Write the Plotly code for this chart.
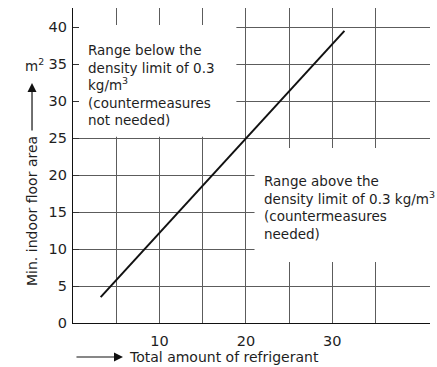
import plotly.graph_objects as go

# ---- data ----
refrigerant_kg = [3.2, 31.4]          # line end points (x)
min_floor_area = [3.5, 39.5]          # line end points (y)
x_grid_vals = [5, 10, 15, 20, 25, 30, 35]
x_tick_text = ["", "10", "", "20", "", "30", ""]
y_grid_vals = [0, 5, 10, 15, 20, 25, 30, 35, 40]
y_tick_text = ["0", "5", "10", "15", "20", "25", "30", "35", "40"]
x_range = [0, 41.3]
y_range = [0, 42.6]

FONT = "DejaVu Sans"
TXT = "#1e1e1e"
GRID = "#5c5c5c"

fig = go.Figure()
fig.add_trace(go.Scatter(
    x=refrigerant_kg, y=min_floor_area, mode="lines",
    line=dict(color="#111111", width=2), showlegend=False, hoverinfo="skip"))

fig.update_layout(
    width=437, height=367,
    margin=dict(l=73, r=7, t=8, b=44),
    paper_bgcolor="white", plot_bgcolor="white",
    font=dict(family=FONT, size=14, color=TXT),
    showlegend=False,
)
fig.update_xaxes(
    range=x_range, tickvals=x_grid_vals, ticktext=x_tick_text,
    showgrid=True, gridcolor=GRID, gridwidth=1.2,
    showline=True, linecolor="#111111", linewidth=1.4,
    ticks="", zeroline=False, tickfont=dict(size=14.5, color=TXT),
    ticklabelstandoff=4,
)
fig.update_yaxes(
    range=y_range, tickvals=y_grid_vals, ticktext=y_tick_text,
    showgrid=True, gridcolor=GRID, gridwidth=1.2,
    showline=True, linecolor="#111111", linewidth=1.4,
    ticks="inside", ticklen=6, tickcolor="#333333", tickwidth=1.2,
    zeroline=False, tickfont=dict(size=14.5, color=TXT),
    ticklabelstandoff=2,
)

# white regions behind the text blocks (above gridlines, below the line)
fig.add_shape(type="rect", xref="x", yref="y", x0=0.1, x1=18.9, y0=25.2, y1=40.3,
              fillcolor="white", line=dict(width=0), layer="between")
fig.add_shape(type="rect", xref="x", yref="y", x0=21.0, x1=x_range[1], y0=8.25, y1=23.65,
              fillcolor="white", line=dict(width=0), layer="between")

fig.add_annotation(
    x=1.5, y=32.2, xref="x", yref="y", xanchor="left", yanchor="middle",
    align="left", showarrow=False,
    text="Range below the<br>density limit of 0.3<br>kg/m<sup>3</sup><br>(countermeasures<br>not needed)",
    font=dict(size=13.5, color=TXT))
fig.add_annotation(
    x=21.85, y=15.65, xref="x", yref="y", xanchor="left", yanchor="middle",
    align="left", showarrow=False,
    text="Range above the<br>density limit of 0.3 kg/m<sup>3</sup><br>(countermeasures<br>needed)",
    font=dict(size=13.5, color=TXT))

# y-axis title with arrow and unit
fig.add_annotation(
    x=-0.1148, y=0.3556, xref="paper", yref="paper", xanchor="center", yanchor="middle",
    textangle=-90, showarrow=False, text="Min. indoor floor area",
    font=dict(size=14, color=TXT))
fig.add_annotation(
    x=-0.1148, y=0.762, xref="paper", yref="paper", text="",
    showarrow=True, ax=0, ay=49, arrowhead=2, arrowsize=1.5, arrowwidth=1.2,
    arrowcolor="#111111", standoff=0, startstandoff=0)
fig.add_annotation(
    x=-0.109, y=0.819, xref="paper", yref="paper", xanchor="center", yanchor="middle",
    showarrow=False, text="m<sup>2</sup>", font=dict(size=13.5, color=TXT))

# x-axis title with arrow
fig.add_annotation(
    x=0.152, y=-0.108, xref="paper", yref="paper", xanchor="left", yanchor="middle",
    showarrow=False, text="Total amount of refrigerant", font=dict(size=14, color=TXT))
fig.add_annotation(
    x=0.140, y=-0.108, xref="paper", yref="paper", text="",
    showarrow=True, ax=-48, ay=0, arrowhead=2, arrowsize=1.5, arrowwidth=1.2,
    arrowcolor="#111111", standoff=0, startstandoff=0)

fig.write_html("out.html", config={"displayModeBar": False},
               post_script="document.body.style.margin='0px';document.body.style.overflow='hidden';")
